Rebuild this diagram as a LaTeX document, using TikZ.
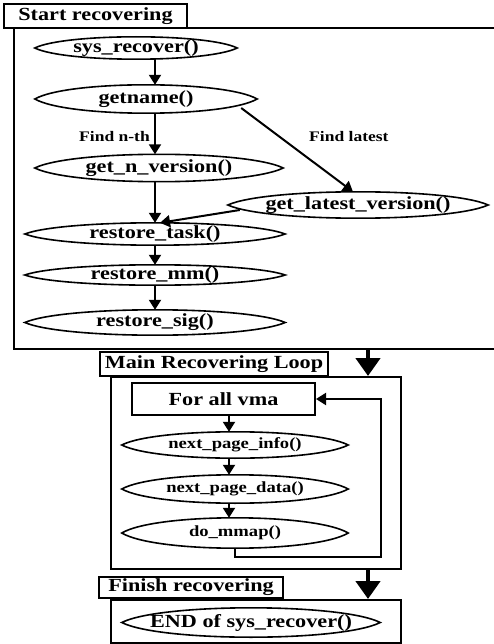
\documentclass[tikz,border=0pt]{standalone}
\usepackage{fontspec}
\setmainfont{Liberation Serif}[FakeStretch=1.2]
\usetikzlibrary{arrows.meta,calc}

\tikzset{
  fn/.style={rectangle, inner sep=0pt,
             font=\bfseries\fontsize{18.5}{21}\selectfont},
  fnsmall/.style={fn, font=\bfseries\fontsize{15.5}{18}\selectfont},
  lensline/.style={line width=1.6pt, line join=miter},
  frame/.style={draw, line width=2pt, rectangle, inner sep=0pt},
  tag/.style={draw, line width=1.6pt, rectangle, inner sep=0pt, fill=white,
              font=\bfseries\fontsize{18.5}{21}\selectfont},
  lbl/.style={inner sep=1pt, font=\bfseries\fontsize{14.6}{17}\selectfont},
  arr/.style={line width=2pt, -{Triangle[width=12pt,length=10pt]}},
  bigarr/.style={line width=4.5pt, -{Triangle[width=24pt,length=18pt]}},
}

\begin{document}
\begin{tikzpicture}[x=1pt,y=-1pt]
\useasboundingbox (0,0) rectangle (493,644);

% --- first stage: start recovering (right side runs off the page)
\node[frame, minimum width=486pt, minimum height=321pt] (main) at (257,188.5) {};
\node[tag, minimum width=183pt, minimum height=24pt] (t1) at (95.5,16) {Start recovering};

\node[fn, minimum width=202pt, minimum height=22pt] (sys) at (136,48) {sys\_recover()};
\node[fn, minimum width=222pt, minimum height=28pt] (gn) at (146,99) {getname()};
\node[fn, minimum width=248pt, minimum height=27pt] (nv) at (159,168) {get\_n\_version()};
\node[fn, minimum width=260pt, minimum height=26pt] (lv) at (358,205) {get\_latest\_version()};
\node[fn, minimum width=260pt, minimum height=22pt] (rt) at (155,234) {restore\_task()};
\node[fn, minimum width=260pt, minimum height=20pt] (rm) at (155,275) {restore\_mm()};
\node[fn, minimum width=260pt, minimum height=25pt] (rs) at (155,322.5) {restore\_sig()};

\draw[arr] (sys.south -| rt.north) -- (gn.north -| rt.north);
\draw[arr] (gn.south -| rt.north) -- (nv.north -| rt.north);
\draw[arr] ($(gn.east)+(-16,9)$) -- ($(lv.north)+(-5,0)$);
\draw[arr] (nv.south -| rt.north) -- (rt.north);
\draw[arr] ($(lv.west)+(12,5)$) -- ($(rt.north)+(5,0)$);
\draw[arr] (rt.south) -- (rm.north);
\draw[arr] (rm.south) -- (rs.north);

\node[lbl, anchor=east] (ln) at (151,137) {Find n-th};
\node[lbl, anchor=west] (ll) at (308,137) {Find latest};

% --- second stage: main recovering loop
\coordinate (bx) at (368,0);
\node[frame, minimum width=290pt, minimum height=192pt] (loop) at (256,473) {};
\node[tag, minimum width=228pt, minimum height=24pt] (t2) at (214,364) {Main Recovering Loop};
\draw[bigarr] (main.south -| bx) -- (loop.north -| bx);

\node[frame, minimum width=183pt, minimum height=32pt,
      font=\bfseries\fontsize{18.5}{21}\selectfont] (fva) at (223.5,399) {For all vma};
\node[fnsmall, minimum width=226pt, minimum height=26pt] (npi) at (235,445) {next\_page\_info()};
\node[fnsmall, minimum width=226pt, minimum height=28pt] (npd) at (235,489) {next\_page\_data()};
\node[fnsmall, minimum width=226pt, minimum height=30pt] (dmm) at (235,533) {do\_mmap()};

\coordinate (lx) at (229,0);
\draw[arr] (fva.south -| lx) -- (npi.north -| lx);
\draw[arr] (npi.south -| lx) -- (npd.north -| lx);
\draw[arr] (npd.south -| lx) -- (dmm.north -| lx);

\coordinate (lr) at (381,557);
\draw[arr] (dmm.south) -- (dmm.south |- lr) -- (lr) -- (lr |- fva.east) -- (fva.east);

% --- third stage: finish recovering
\node[frame, minimum width=290pt, minimum height=43pt] (fin) at (256,621.5) {};
\node[tag, minimum width=184pt, minimum height=21pt] (t3) at (191,587.5) {Finish recovering};
\draw[bigarr] (loop.south -| bx) -- (fin.north -| bx);
\node[fn, minimum width=258pt, minimum height=29pt] (end) at (251,622.5) {END of sys\_recover()};

% pointed oval outline around every function node
\foreach \n in {sys,gn,nv,lv,rt,rm,rs,npi,npd,dmm,end}{
  \path ($(\n.west)!1.333!(\n.north west)$) coordinate (tl)
        ($(\n.east)!1.333!(\n.north east)$) coordinate (tr)
        ($(\n.west)!1.333!(\n.south west)$) coordinate (bl)
        ($(\n.east)!1.333!(\n.south east)$) coordinate (br);
  \draw[lensline] (\n.west)
      .. controls ($(tl)!0.15!(tr)$) and ($(tl)!0.85!(tr)$) .. (\n.east)
      .. controls ($(bl)!0.85!(br)$) and ($(bl)!0.15!(br)$) .. cycle;
}
\end{tikzpicture}
\end{document}
